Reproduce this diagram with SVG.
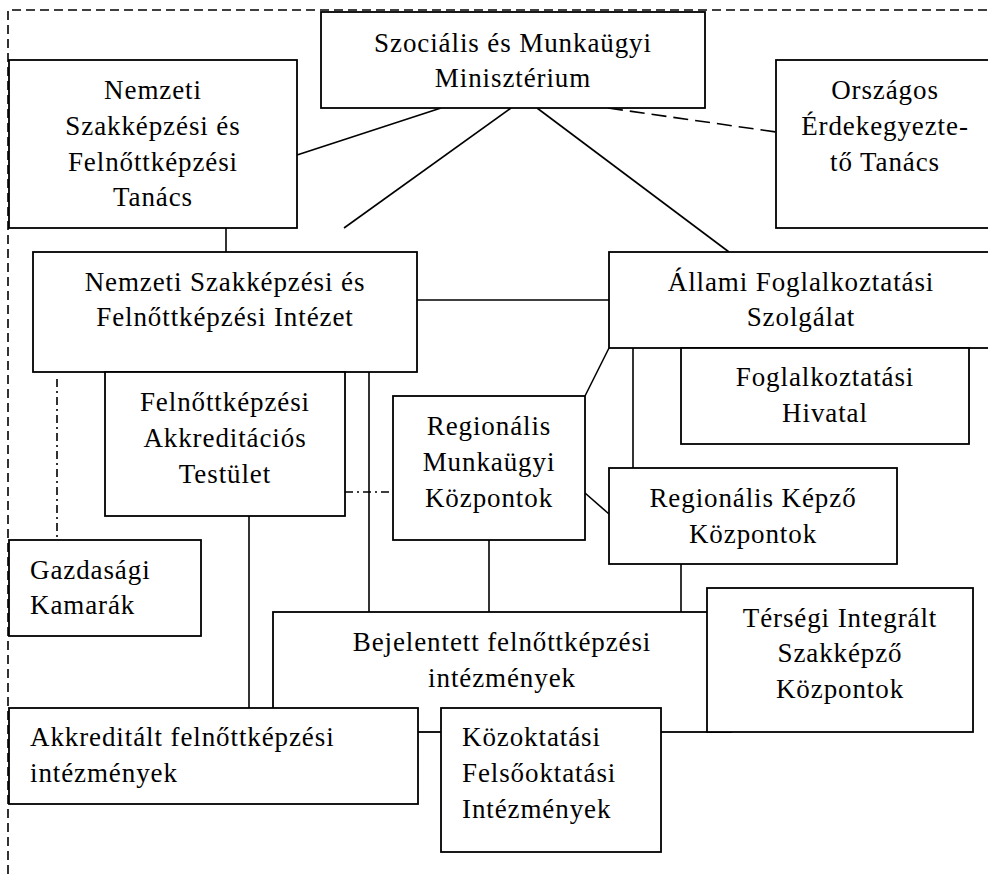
<svg xmlns="http://www.w3.org/2000/svg" width="988" height="874" viewBox="0 0 988 874">
<style>
.b{fill:#fff;stroke:#000;stroke-width:1.8}
.c{stroke:#000;stroke-width:1.6;fill:none}
.d{stroke-dasharray:15,7}
.dd{stroke-dasharray:8,4,2,4}
.t{font-family:"Liberation Serif","Times New Roman",serif;font-size:27px;letter-spacing:0.9px;fill:#000}
.m{text-anchor:middle}
</style>
<rect width="988" height="874" fill="#fff"/>
<g id="border">
<path d="M8,874 V10 H988" class="c" stroke-dasharray="9,5"/>
</g>
<g id="connectors">
<line x1="297" y1="155" x2="441" y2="108" class="c"/>
<line x1="511" y1="108" x2="344" y2="228" class="c"/>
<line x1="537" y1="108" x2="729" y2="252" class="c"/>
<line x1="608" y1="108" x2="776" y2="132" class="c d"/>
<line x1="226" y1="228" x2="226" y2="252" class="c"/>
<line x1="417" y1="300" x2="609" y2="300" class="c"/>
<line x1="609" y1="348" x2="585" y2="396" class="c"/>
<line x1="633" y1="348" x2="633" y2="468" class="c"/>
<line x1="585" y1="493" x2="609" y2="514" class="c"/>
<line x1="345" y1="492" x2="393" y2="492" class="c dd"/>
<line x1="369" y1="372" x2="369" y2="612" class="c"/>
<line x1="57" y1="379" x2="57" y2="540" class="c dd"/>
<line x1="249" y1="516" x2="249" y2="708" class="c"/>
<line x1="489" y1="540" x2="489" y2="612" class="c"/>
<line x1="681" y1="564" x2="681" y2="612" class="c"/>
</g>
<g id="n-ministerium">
<rect x="321" y="12" width="384" height="96" class="b"/>
<text class="t m" x="513" y="52">Szociális és Munkaügyi</text>
<text class="t m" x="513" y="87">Minisztérium</text>
</g>
<g id="n-tanacs">
<rect x="9" y="60" width="288" height="168" class="b"/>
<text class="t m" x="153" y="99">Nemzeti</text>
<text class="t m" x="153" y="135">Szakképzési és</text>
<text class="t m" x="153" y="171">Felnőttképzési</text>
<text class="t m" x="153" y="206">Tanács</text>
</g>
<g id="n-orszagos">
<rect x="776" y="60" width="218" height="168" class="b"/>
<text class="t m" x="885" y="99">Országos</text>
<text class="t m" x="885" y="135">Érdekegyezte-</text>
<text class="t m" x="885" y="171">tő Tanács</text>
</g>
<g id="n-intezet">
<rect x="33" y="252" width="384" height="120" class="b"/>
<text class="t m" x="225" y="291">Nemzeti Szakképzési és</text>
<text class="t m" x="225" y="326">Felnőttképzési Intézet</text>
</g>
<g id="n-allami">
<rect x="609" y="252" width="385" height="96" class="b"/>
<text class="t m" x="801" y="291">Állami Foglalkoztatási</text>
<text class="t m" x="801" y="326">Szolgálat</text>
</g>
<g id="n-hivatal">
<rect x="681" y="348" width="288" height="96" class="b"/>
<text class="t m" x="825" y="386">Foglalkoztatási</text>
<text class="t m" x="825" y="422">Hivatal</text>
</g>
<g id="n-testulet">
<rect x="105" y="372" width="240" height="144" class="b"/>
<text class="t m" x="225" y="411">Felnőttképzési</text>
<text class="t m" x="225" y="447">Akkreditációs</text>
<text class="t m" x="225" y="483">Testület</text>
</g>
<g id="n-rmk">
<rect x="393" y="396" width="192" height="144" class="b"/>
<text class="t m" x="489" y="435">Regionális</text>
<text class="t m" x="489" y="471">Munkaügyi</text>
<text class="t m" x="489" y="507">Központok</text>
</g>
<g id="n-rkk">
<rect x="609" y="468" width="288" height="96" class="b"/>
<text class="t m" x="753" y="507">Regionális Képző</text>
<text class="t m" x="753" y="543">Központok</text>
</g>
<g id="n-gazdasagi">
<rect x="9" y="540" width="192" height="96" class="b"/>
<text class="t" x="30" y="579">Gazdasági</text>
<text class="t" x="30" y="614">Kamarák</text>
</g>
<g id="n-bejelentett">
<rect x="273" y="612" width="458" height="120" class="b"/>
<text class="t m" x="502" y="651">Bejelentett felnőttképzési</text>
<text class="t m" x="502" y="687">intézmények</text>
</g>
<g id="n-tersegi">
<rect x="707" y="588" width="266" height="144" class="b"/>
<text class="t m" x="840" y="627">Térségi Integrált</text>
<text class="t m" x="840" y="662">Szakképző</text>
<text class="t m" x="840" y="698">Központok</text>
</g>
<g id="n-akkreditalt">
<rect x="9" y="708" width="409" height="96" class="b"/>
<text class="t" x="30" y="746">Akkreditált felnőttképzési</text>
<text class="t" x="30" y="782">intézmények</text>
</g>
<g id="n-kozoktatasi">
<rect x="441" y="708" width="220" height="144" class="b"/>
<text class="t" x="462" y="746">Közoktatási</text>
<text class="t" x="462" y="782">Felsőoktatási</text>
<text class="t" x="462" y="818">Intézmények</text>
</g>
</svg>
